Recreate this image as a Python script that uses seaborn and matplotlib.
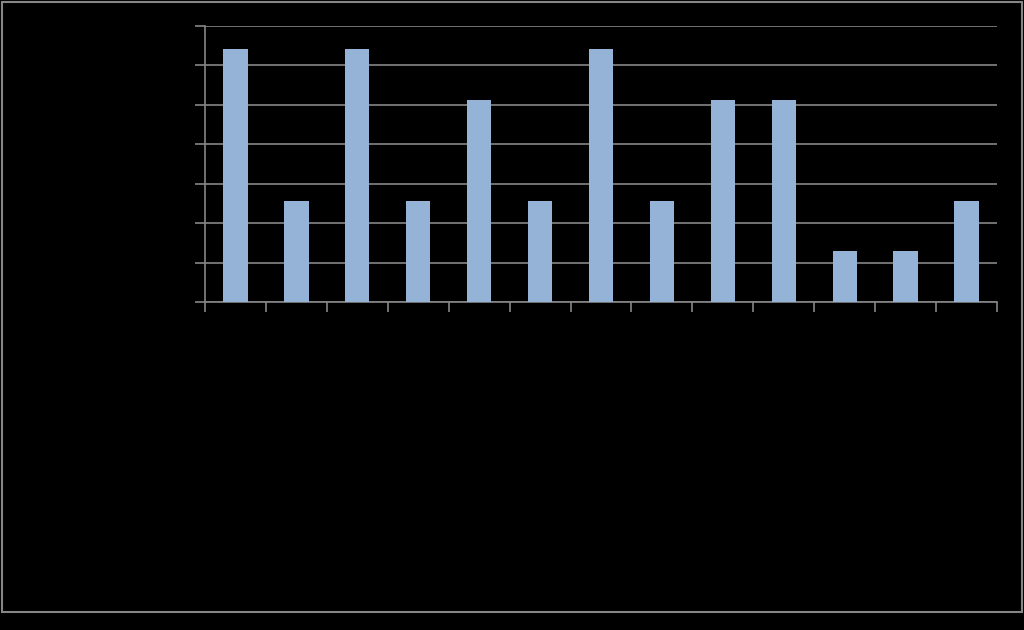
import seaborn as sns
import matplotlib.pyplot as plt
from matplotlib.patches import Rectangle

# 13 categories; labels are drawn black on black in the original, so unreadable
categories = [str(i) for i in range(1, 14)]
counts = [5, 2, 5, 2, 4, 2, 5, 2, 4, 4, 1, 1, 2]
total = sum(counts)
percent = [c / total * 100 for c in counts]
y_ticks = [0, 2, 4, 6, 8, 10, 12, 14]

sns.set_style("dark")
plt.rcParams['font.family'] = ['DejaVu Sans']

fig = plt.figure(figsize=(10.24, 6.3), dpi=100, facecolor="black")
ax = fig.add_axes([205/1024, 1 - 302/630, 792/1024, 276/630])
ax.set_facecolor("black")

sns.barplot(x=categories, y=percent, color="#95B3D7", saturation=1,
            width=0.4, linewidth=0, ax=ax, zorder=3)

ax.set_xlim(-0.5, len(categories) - 0.5)
ax.set_ylim(0, 14)
ax.set_yticks(y_ticks)
ax.set_yticklabels([f"{t}%" for t in y_ticks], color="black")
ax.yaxis.grid(True, color="#868686", linewidth=1.2, zorder=0)
ax.xaxis.grid(False)

# ticks on category boundaries, labels at centres (black, like the original)
ax.set_xticks([i - 0.5 for i in range(len(categories) + 1)])
ax.set_xticklabels([])
ax.set_xticks(range(len(categories)), minor=True)
ax.set_xticklabels(categories, minor=True, color="black")
ax.tick_params(axis="x", which="minor", length=0)
ax.tick_params(axis="both", which="major", direction="out", length=7,
               color="#868686", width=1.2, bottom=True, left=True)
ax.set_xlabel("")
ax.set_ylabel("")

for side in ["top", "right"]:
    ax.spines[side].set_visible(False)
for side in ["left", "bottom"]:
    ax.spines[side].set_visible(True)
    ax.spines[side].set_color("#868686")
    ax.spines[side].set_linewidth(1.2)

fig.patches.append(Rectangle((2/1024, 18/630), 1020/1024, 610/630,
                             transform=fig.transFigure, fill=False,
                             edgecolor="#868686", linewidth=1.5))

fig.savefig("out.png", dpi=100, facecolor="black")
